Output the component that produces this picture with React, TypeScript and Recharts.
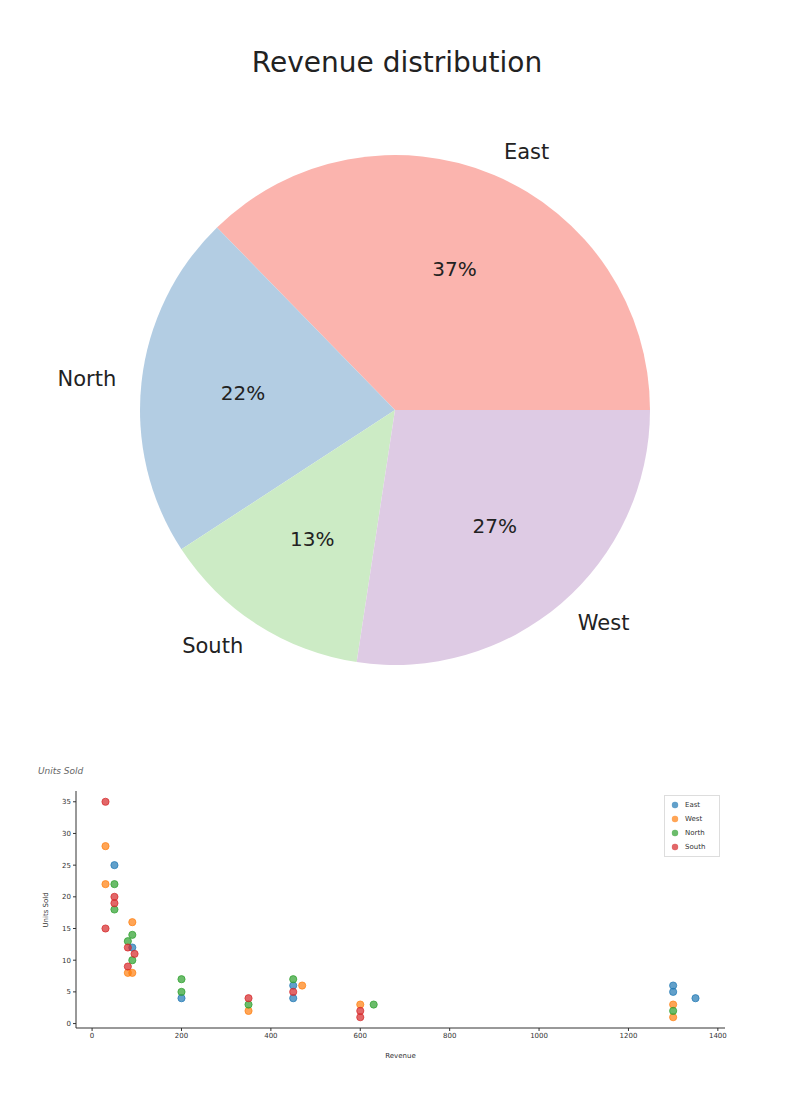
import { Cell, Pie, PieChart, Scatter, ScatterChart, XAxis, YAxis } from "recharts";

// pie: share of revenue per region (counterclockwise from 3 o'clock)
const pieRegions = ["East", "North", "South", "West"];
const pieShares = [37.3, 21.9, 13.4, 27.4];
const pieColors = ["#fbb4ae", "#b3cde3", "#ccebc5", "#decbe4"];

// scatter: revenue vs units sold per region
const eastRevenue = [50, 90, 200, 450, 450, 1300, 1300, 1350];
const eastUnits = [25, 12, 4, 4, 6, 6, 5, 4];
const westRevenue = [30, 30, 90, 80, 90, 350, 470, 600, 1300, 1300];
const westUnits = [28, 22, 16, 8, 8, 2, 6, 3, 3, 1];
const northRevenue = [50, 50, 90, 80, 90, 200, 200, 350, 450, 630, 1300];
const northUnits = [22, 18, 14, 13, 10, 7, 5, 3, 7, 3, 2];
const southRevenue = [30, 30, 50, 50, 80, 95, 80, 350, 450, 600, 600];
const southUnits = [35, 15, 20, 19, 12, 11, 9, 4, 5, 2, 1];

const xTicks = [0, 200, 400, 600, 800, 1000, 1200, 1400];
const yTicks = [0, 5, 10, 15, 20, 25, 30, 35];

const pieData = pieRegions.map((name, i) => ({ name, value: pieShares[i] }));

const toPoints = (rev: number[], units: number[]) =>
    rev.map((r, i) => ({ revenue: r, units: units[i] }));

const scatterSeries = [
    { name: "East", color: "#1f77b4", data: toPoints(eastRevenue, eastUnits) },
    { name: "West", color: "#ff7f0e", data: toPoints(westRevenue, westUnits) },
    { name: "North", color: "#2ca02c", data: toPoints(northRevenue, northUnits) },
    { name: "South", color: "#d62728", data: toPoints(southRevenue, southUnits) },
];

const RADIAN = Math.PI / 180;
const FONT = "DejaVu Sans, sans-serif";

const renderPieLabel = (props: any) => {
    const { cx, cy, midAngle, outerRadius, percent, name } = props;
    const cos = Math.cos(-midAngle * RADIAN);
    const sin = Math.sin(-midAngle * RADIAN);
    const ox = cx + outerRadius * 1.1 * cos;
    const oy = cy + outerRadius * 1.1 * sin;
    const ix = cx + outerRadius * 0.6 * cos;
    const iy = cy + outerRadius * 0.6 * sin;
    return (
        <g>
            <text
                x={ox}
                y={oy}
                textAnchor={cos >= 0 ? "start" : "end"}
                dominantBaseline="central"
                fontSize={21}
                fontFamily={FONT}
                fill="#222"
            >
                {name}
            </text>
            <text
                x={ix}
                y={iy}
                textAnchor="middle"
                dominantBaseline="central"
                fontSize={20}
                fontFamily={FONT}
                fill="#222"
            >
                {Math.round(percent * 100)}%
            </text>
        </g>
    );
};

const Dot = (props: any) => {
    const { cx, cy, fill } = props;
    return (
        <circle
            cx={cx}
            cy={cy}
            r={3.6}
            fill={fill}
            fillOpacity={0.7}
            stroke={fill}
            strokeOpacity={0.7}
            strokeWidth={1}
        />
    );
};

const LegendBox = () => (
    <div
        style={{
            position: "absolute",
            left: 664,
            top: 795,
            border: "1px solid #ddd",
            background: "#fff",
            padding: "2px 6px 2px 6px",
            fontFamily: FONT,
            fontSize: 7,
            color: "#333",
            width: 42,
        }}
    >
        {scatterSeries.map((s) => (
            <div key={s.name} style={{ display: "flex", alignItems: "center", height: 14 }}>
                <svg width={8} height={8} style={{ marginRight: 6 }}>
                    <circle cx={4} cy={4} r={3.2} fill={s.color} fillOpacity={0.7} />
                </svg>
                {s.name}
            </div>
        ))}
    </div>
);

export default function App() {
    return (
        <div style={{ position: "absolute", left: 0, top: 0, width: 794, height: 1116, background: "#fff" }}>
            <div
                style={{
                    position: "absolute",
                    left: 0,
                    top: 43,
                    width: 794,
                    textAlign: "center",
                    fontFamily: FONT,
                    fontSize: 28,
                    color: "#222",
                    lineHeight: "40px",
                }}
            >
                Revenue distribution
            </div>
            <div style={{ position: "absolute", left: 0, top: 0 }}>
                <PieChart width={794} height={720} margin={{ top: 0, right: 0, bottom: 0, left: 0 }}>
                    <Pie
                        data={pieData}
                        dataKey="value"
                        nameKey="name"
                        cx={395}
                        cy={410}
                        outerRadius={255}
                        startAngle={0}
                        endAngle={360}
                        stroke="none"
                        label={renderPieLabel}
                        labelLine={false}
                        isAnimationActive={false}
                    >
                        {pieData.map((d, i) => (
                            <Cell key={d.name} fill={pieColors[i]} />
                        ))}
                    </Pie>
                </PieChart>
            </div>
            <div
                style={{
                    position: "absolute",
                    left: 38,
                    top: 766,
                    fontFamily: FONT,
                    fontSize: 9,
                    fontStyle: "italic",
                    color: "#666",
                }}
            >
                Units Sold
            </div>
            <div style={{ position: "absolute", left: 0, top: 740 }}>
                <ScatterChart width={794} height={340} margin={{ top: 51, right: 69, bottom: 22, left: 36 }}>
                    <XAxis
                        type="number"
                        dataKey="revenue"
                        domain={[-36, 1416]}
                        ticks={xTicks}
                        allowDataOverflow
                        height={30}
                        tickSize={3}
                        stroke="#333"
                        tick={{ fontSize: 7, fill: "#333", fontFamily: FONT }}
                        label={{ value: "Revenue", position: "insideBottom", offset: 0, fontSize: 7, fill: "#333", fontFamily: FONT }}
                    />
                    <YAxis
                        type="number"
                        dataKey="units"
                        domain={[-0.7, 36.7]}
                        ticks={yTicks}
                        allowDataOverflow
                        width={40}
                        tickSize={3}
                        stroke="#333"
                        tick={{ fontSize: 7, fill: "#333", fontFamily: FONT }}
                        label={{ value: "Units Sold", angle: -90, position: "insideLeft", offset: 10, dy: 18, fontSize: 7, fill: "#333", fontFamily: FONT }}
                    />
                    {scatterSeries.map((s) => (
                        <Scatter
                            key={s.name}
                            name={s.name}
                            data={s.data}
                            fill={s.color}
                            shape={<Dot />}
                            isAnimationActive={false}
                        />
                    ))}
                </ScatterChart>
            </div>
            <LegendBox />
        </div>
    );
}
